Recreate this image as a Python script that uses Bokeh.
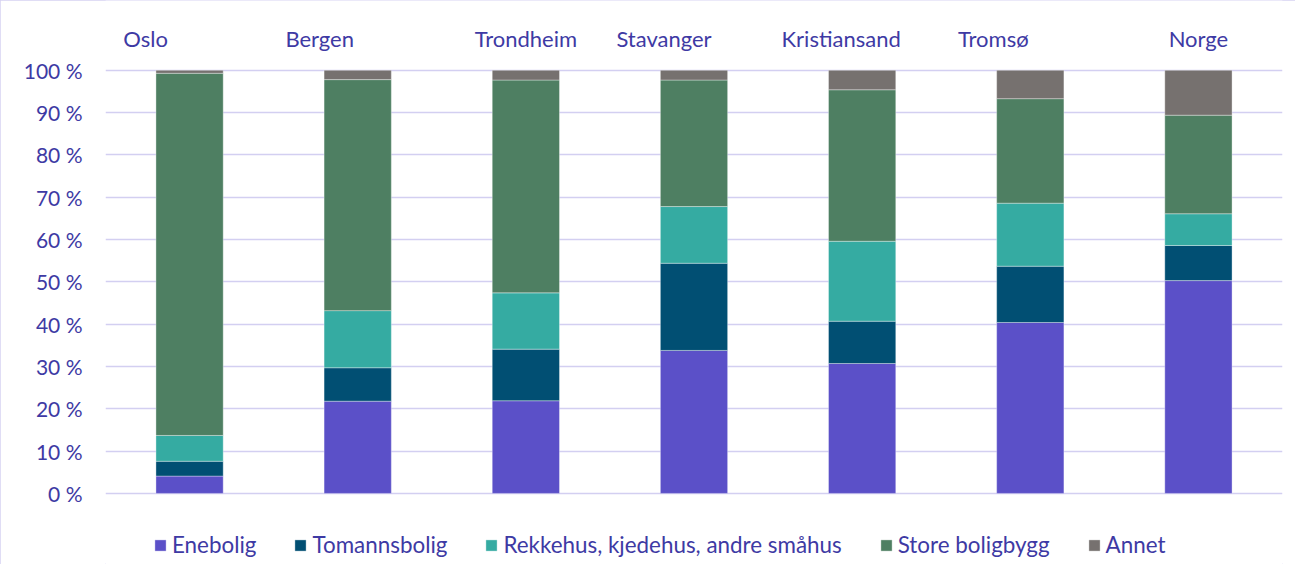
from bokeh.plotting import figure
from bokeh.models import ColumnDataSource, FixedTicker, CustomJSTickFormatter, Range1d
from bokeh.core.properties import value
from bokeh.embed import file_html
from bokeh.resources import INLINE

cities = ["Oslo", "Bergen", "Trondheim", "Stavanger", "Kristiansand", "Tromsø", "Norge"]
series = ["Enebolig", "Tomannsbolig", "Rekkehus, kjedehus, andre småhus", "Store boligbygg", "Annet"]
enebolig = [4.1, 21.8, 21.9, 33.8, 30.7, 40.4, 50.3]
tomannsbolig = [3.5, 7.9, 12.2, 20.6, 10.0, 13.3, 8.3]
rekkehus = [6.1, 13.5, 13.3, 13.4, 18.9, 14.9, 7.5]
store_boligbygg = [85.6, 54.6, 50.3, 29.9, 35.8, 24.7, 23.3]
annet = [0.7, 2.2, 2.3, 2.3, 4.6, 6.7, 10.6]
y_ticks = [0, 10, 20, 30, 40, 50, 60, 70, 80, 90, 100]

colors = ["#5b50c8", "#014f73", "#35aba2", "#4e7f62", "#76716f"]
text_color = "#3e3aa4"
grid_color = "#d3cff1"
FONT = "Lato"
label_x_offsets = [-44, -38, 0, -30, -21, -37, 0]

source = ColumnDataSource(dict(
    city=cities,
    **{series[0]: enebolig, series[1]: tomannsbolig, series[2]: rekkehus,
       series[3]: store_boligbygg, series[4]: annet}
))

p = figure(x_range=cities, y_range=Range1d(-16.8, 116.5), width=1295, height=564,
           output_backend="svg", toolbar_location=None,
           min_border_left=105, min_border_right=13, min_border_top=0, min_border_bottom=0)
p.x_range.range_padding = 0
p.outline_line_color = None
p.styles = {"outline": "1px solid #d6d2f2", "outline-offset": "-1px"}

p.vbar_stack(series, x="city", width=0.4, color=colors, source=source,
             line_color="white", line_alpha=0.35, line_width=1,
             legend_label=series)

lbl_src = ColumnDataSource(dict(x=cities, y=[107.5] * len(cities), dx=label_x_offsets))
p.text(x="x", y="y", text="x", x_offset="dx", source=lbl_src,
       text_font=value(FONT), text_font_size="22px", text_color=text_color,
       text_align="center", text_baseline="middle")

p.xaxis.visible = False
p.xgrid.grid_line_color = None
p.yaxis.ticker = FixedTicker(ticks=y_ticks)
p.yaxis.formatter = CustomJSTickFormatter(code="return Math.round(tick) + ' %';")
p.yaxis.axis_line_color = None
p.yaxis.major_tick_line_color = None
p.yaxis.minor_tick_line_color = None
p.yaxis.major_tick_out = 0
p.yaxis.major_tick_in = 0
p.yaxis.major_label_standoff = 23
p.yaxis.major_label_text_font = FONT
p.yaxis.major_label_text_font_size = "21px"
p.yaxis.major_label_text_color = text_color
p.ygrid.ticker = FixedTicker(ticks=y_ticks)
p.ygrid.grid_line_color = grid_color
p.ygrid.grid_line_width = 1.6

lg = p.legend[0]
lg.orientation = "horizontal"
lg.location = (48, 6)
lg.padding = 0
lg.margin = 0
lg.spacing = 37
lg.glyph_width = 14
lg.glyph_height = 14
lg.label_standoff = 5
lg.label_text_font = FONT
lg.label_text_font_size = "22.4px"
lg.label_text_color = text_color
lg.border_line_color = None
lg.background_fill_alpha = 0

open("out.html", "w").write(file_html(p, INLINE))
